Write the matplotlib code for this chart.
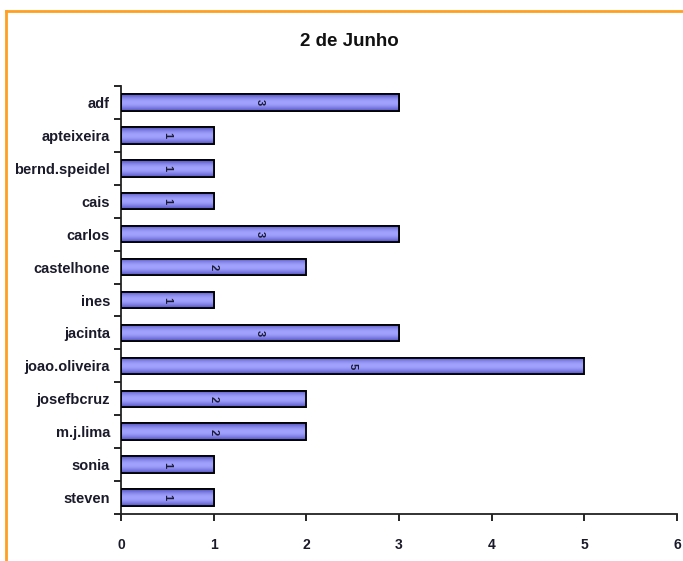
import matplotlib
matplotlib.use("Agg")
import matplotlib.pyplot as plt
from matplotlib import font_manager
from matplotlib.patches import Rectangle
from matplotlib.colors import LinearSegmentedColormap
import numpy as np

names = ["adf", "apteixeira", "bernd.speidel", "cais", "carlos", "castelhone",
         "ines", "jacinta", "joao.oliveira", "josefbcruz", "m.j.lima", "sonia", "steven"]
counts = [3, 1, 1, 1, 3, 2, 1, 3, 5, 2, 2, 1, 1]
x_ticks = [0, 1, 2, 3, 4, 5, 6]
title = "2 de Junho"

available = {f.name for f in font_manager.fontManager.ttflist}
family = "Liberation Sans Narrow" if "Liberation Sans Narrow" in available else "Liberation Sans"
plt.rcParams["font.family"] = [family, "DejaVu Sans"]

fig = plt.figure(figsize=(6.83, 5.61), dpi=100)
fig.patch.set_facecolor("white")

# orange frame around the chart area
fig.add_artist(plt.Line2D([6 / 683, 1.0], [1 - 11 / 561, 1 - 11 / 561],
                          transform=fig.transFigure, color="#FFA020", lw=2))
fig.add_artist(plt.Line2D([6 / 683, 6 / 683], [0, 1 - 11 / 561],
                          transform=fig.transFigure, color="#FFA020", lw=2))

left, right = 121 / 683, 677 / 683
top, bottom = 1 - 86 / 561, 1 - 514 / 561
ax = fig.add_axes([left, bottom, right - left, top - bottom])

n = len(names)
ypos = np.arange(n)
bar_h = 0.5
grad = np.array([0.0, 0.35, 0.7, 0.9, 1.0, 0.9, 0.7, 0.35, 0.0]).reshape(-1, 1)
cmap = LinearSegmentedColormap.from_list("bar", ["#5E5ECC", "#A4A4FF"])

for y, v in zip(ypos, counts):
    rect = Rectangle((0, y - bar_h / 2), v, bar_h, facecolor="#8C8CF2",
                     edgecolor="black", lw=1.2, zorder=2)
    ax.add_patch(rect)
    im = ax.imshow(grad, cmap=cmap, aspect="auto", extent=(0, v, y + bar_h / 2, y - bar_h / 2),
                   zorder=2.5, interpolation="bicubic")
    im.set_clip_path(rect)
    edge = Rectangle((0, y - bar_h / 2), v, bar_h, facecolor="none",
                     edgecolor="black", lw=1.3, zorder=3)
    ax.add_patch(edge)
    ax.text(v / 2, y, str(v), rotation=-90, ha="center", va="center",
            fontsize=8, fontweight="bold", color="#1A1A33", zorder=4)

ax.set_xlim(0, 6)
ax.set_ylim(n - 0.5, -0.5)
ax.set_xticks(x_ticks)
ax.set_xticklabels([str(t) for t in x_ticks], fontsize=10, fontweight="bold", color="#1A1A2A")
ax.set_yticks(ypos)
ax.set_yticklabels(names, fontsize=10.5, fontweight="bold", color="#1A1A2A")
ax.set_yticks(np.arange(n + 1) - 0.5, minor=True)
ax.tick_params(axis="y", which="major", length=0, pad=8)
ax.tick_params(axis="y", which="minor", length=5, width=1.2, direction="out")
ax.tick_params(axis="x", length=5, width=1.2, direction="out", pad=12)
for s in ("top", "right"):
    ax.spines[s].set_visible(False)
for s in ("left", "bottom"):
    ax.spines[s].set_linewidth(1.3)
    ax.spines[s].set_color("#222222")

fig.text(349 / 683, 1 - 42 / 561, title, ha="center", va="center",
         fontsize=13.5, fontweight="bold", color="#111111")

fig.savefig("out.png", dpi=100, facecolor="white")
